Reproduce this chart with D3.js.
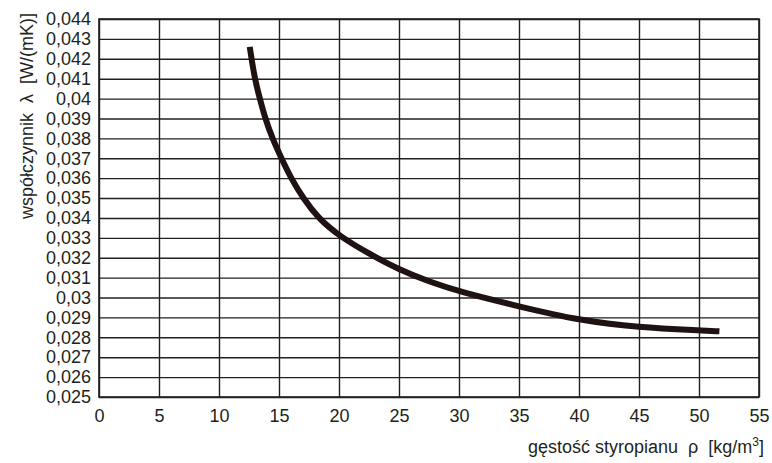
<!DOCTYPE html>
<html>
<head>
<meta charset="utf-8">
<script src="https://cdn.jsdelivr.net/npm/d3@7"></script>
<style>
  body { margin: 0; background: #fff; }
  svg text { font-family: "Liberation Sans", Arial, sans-serif; fill: #231f20; }
</style>
</head>
<body>
<svg id="chart"></svg>
<script>
// density of polystyrene [kg/m3] vs thermal conductivity [W/(mK)]
const density = [12.56, 12.97, 13.4, 13.85, 14.45, 15.2, 16.0, 17.0, 18.25, 20, 22.5, 25, 27.5, 30, 35, 40, 45, 50, 51.7]
const lambda  = [0.0426, 0.041, 0.040, 0.039, 0.038, 0.037, 0.036, 0.035, 0.034, 0.0331, 0.0322, 0.0314, 0.0308, 0.0303, 0.02955, 0.02885, 0.0285, 0.02835, 0.0283]

const xTicks = [0, 5, 10, 15, 20, 25, 30, 35, 40, 45, 50, 55]
const yTicks = [0.025, 0.026, 0.027, 0.028, 0.029, 0.03, 0.031, 0.032, 0.033, 0.034,
                0.035, 0.036, 0.037, 0.038, 0.039, 0.04, 0.041, 0.042, 0.043, 0.044]

const W = 772, H = 463
const margin = { top: 19, right: 13, bottom: 66, left: 99 }
const w = W - margin.left - margin.right
const h = H - margin.top - margin.bottom

const plFormat = d3.formatLocale({ decimal: ',', thousands: ' ', grouping: [3], currency: ['', ''] }).format('.3~g')

const svg = d3.select('#chart')
    .attr('width', W)
    .attr('height', H)

const g = svg.append('g')
    .attr('transform', `translate(${margin.left},${margin.top})`)

const x = d3.scaleLinear().domain([0, 55]).range([0, w])
const y = d3.scaleLinear().domain([0.025, 0.044]).range([h, 0])

// horizontal grid + y labels
g.append('g')
    .call(d3.axisLeft(y).tickValues(yTicks).tickSize(-w).tickPadding(8).tickFormat(plFormat))
    .call(a => a.select('.domain').remove())
    .call(a => a.selectAll('line').attr('stroke', '#231f20').attr('stroke-width', 1.4))
    .call(a => a.selectAll('text').attr('font-size', 18).attr('fill', '#231f20'))

// vertical grid + x labels
g.append('g')
    .attr('transform', `translate(0,${h})`)
    .call(d3.axisBottom(x).tickValues(xTicks).tickSize(-h).tickPadding(12))
    .call(a => a.select('.domain').remove())
    .call(a => a.selectAll('line').attr('stroke', '#231f20').attr('stroke-width', 1.4))
    .call(a => a.selectAll('text').attr('font-size', 18).attr('fill', '#231f20'))

// frame
g.append('rect')
    .attr('width', w).attr('height', h)
    .attr('fill', 'none').attr('stroke', '#231f20').attr('stroke-width', 1.6)

// curve
const line = d3.line()
    .x(i => x(density[i]))
    .y(i => y(lambda[i]))
    .curve(d3.curveBasis)

g.append('path')
    .attr('d', line(d3.range(density.length)))
    .attr('fill', 'none')
    .attr('stroke', '#1e1213')
    .attr('stroke-width', 6)
    .attr('stroke-linecap', 'butt')

// axis titles
svg.append('text')
    .attr('transform', 'translate(33,13) rotate(-90)')
    .attr('text-anchor', 'end')
    .attr('font-size', 18)
    .attr('xml:space', 'preserve')
    .text('współczynnik  λ  [W/(mK)]')

const xt = svg.append('text')
    .attr('x', 764)
    .attr('y', 453)
    .attr('text-anchor', 'end')
    .attr('font-size', 18)
    .attr('xml:space', 'preserve')
xt.append('tspan').text('gęstość styropianu  ρ  [kg/m')
xt.append('tspan').attr('font-size', 12).attr('dy', -7).text('3')
xt.append('tspan').attr('dy', 7).text(']')
</script>
</body>
</html>
